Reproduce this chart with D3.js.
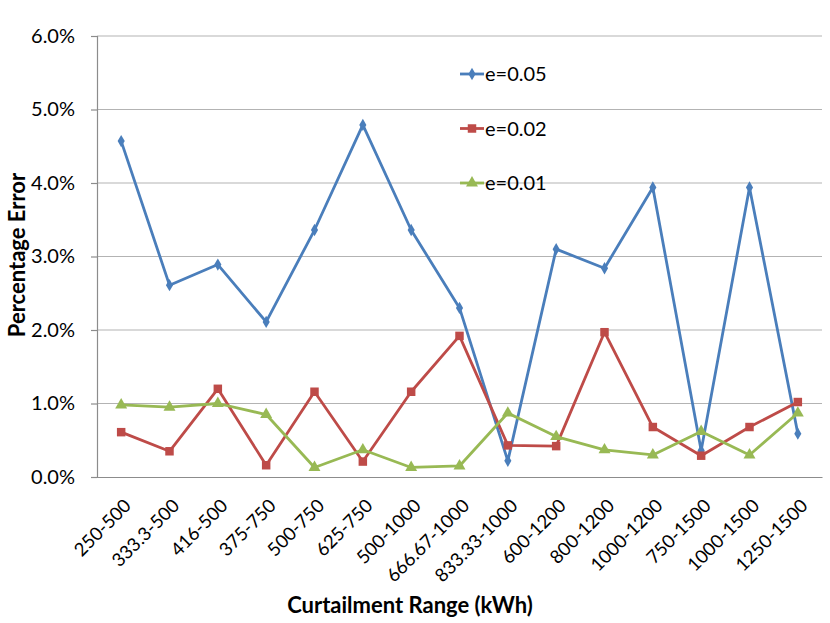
<!DOCTYPE html>
<html>
<head>
<meta charset="utf-8">
<script src="https://cdn.jsdelivr.net/npm/d3@7"></script>
<style>
  body { margin: 0; background: #fff; }
  text { font-family: Lato, "Open Sans", sans-serif; fill: #000; }
  .grid line { stroke: #b3b3b3; stroke-width: 1.2; }
  .line { fill: none; stroke-width: 2.8; stroke-linejoin: round; }
</style>
</head>
<body>
<div id="chart"></div>
<script>
var categories = ["250-500", "333.3-500", "416-500", "375-750", "500-750", "625-750",
  "500-1000", "666.67-1000", "833.33-1000", "600-1200", "800-1200", "1000-1200",
  "750-1500", "1000-1500", "1250-1500"];

var e005 = [4.57, 2.61, 2.89, 2.11, 3.36, 4.79, 3.36, 2.30, 0.22, 3.10, 2.84, 3.94, 0.36, 3.94, 0.59];
var e002 = [0.61, 0.35, 1.20, 0.16, 1.16, 0.21, 1.16, 1.92, 0.43, 0.42, 1.97, 0.68, 0.29, 0.68, 1.02];
var e001 = [0.98, 0.95, 1.00, 0.85, 0.13, 0.37, 0.13, 0.15, 0.87, 0.55, 0.37, 0.30, 0.62, 0.30, 0.87];

var yTicks = [0, 1, 2, 3, 4, 5, 6];

var series = [
  { name: "e=0.05", values: e005, color: "#4a7ebb", shape: d3.symbolDiamond, size: 44 },
  { name: "e=0.02", values: e002, color: "#be4b48", shape: d3.symbolSquare, size: 72 },
  { name: "e=0.01", values: e001, color: "#98b954", shape: d3.symbolTriangle, size: 62 }
];

var width = 830, height = 623;
var margin = { top: 36, right: 8, bottom: 146, left: 97 };

var svg = d3.select("#chart").append("svg")
    .attr("width", width)
    .attr("height", height);

var x = d3.scaleBand()
    .domain(categories)
    .range([margin.left, width - margin.right]);

var y = d3.scaleLinear()
    .domain([0, 6])
    .range([height - margin.bottom, margin.top]);

// gridlines
svg.append("g")
    .attr("class", "grid")
    .selectAll("line")
    .data(yTicks.slice(1))
  .enter().append("line")
    .attr("x1", margin.left)
    .attr("x2", width - margin.right)
    .attr("y1", function(d) { return y(d); })
    .attr("y2", function(d) { return y(d); });

// y axis
var yAxis = svg.append("g")
    .attr("transform", "translate(" + margin.left + ",0)")
    .call(d3.axisLeft(y).tickValues(yTicks).tickSize(6).tickPadding(16)
      .tickFormat(function(d) { return d.toFixed(1) + "%"; }));
yAxis.select(".domain").attr("stroke", "#8c8c8c").attr("stroke-width", 1.2);
yAxis.selectAll(".tick line").attr("stroke", "#8c8c8c").attr("stroke-width", 1.2);
yAxis.selectAll("text").style("font-size", "20px").attr("fill", "#000");

// x axis
var xAxis = svg.append("g")
    .attr("transform", "translate(0," + y(0) + ")")
    .call(d3.axisBottom(x).tickSize(0).tickSizeOuter(0));
xAxis.select(".domain").attr("stroke", "#8c8c8c").attr("stroke-width", 1.2);
xAxis.selectAll("text")
    .style("font-size", "18.5px")
    .style("text-anchor", "end")
    .attr("x", 0)
    .attr("y", 0)
    .attr("dy", 0)
    .attr("transform", "translate(11,30) rotate(-45)");

// lines and markers
var line = d3.line()
    .x(function(d, i) { return x(categories[i]) + x.bandwidth() / 2; })
    .y(function(d) { return y(d); });

series.forEach(function(s) {
  svg.append("path")
      .datum(s.values)
      .attr("class", "line")
      .attr("stroke", s.color)
      .attr("d", line);

  svg.append("g").selectAll("path")
      .data(s.values)
    .enter().append("path")
      .attr("d", d3.symbol().type(s.shape).size(s.size))
      .attr("fill", s.color)
      .attr("transform", function(d, i) {
        return "translate(" + (x(categories[i]) + x.bandwidth() / 2) + "," + y(d) + ")";
      });
});

// legend
var legend = svg.append("g")
    .attr("transform", "translate(460,74)");

var item = legend.selectAll("g")
    .data(series)
  .enter().append("g")
    .attr("transform", function(d, i) { return "translate(0," + i * 54.5 + ")"; });

item.append("line")
    .attr("x1", 0).attr("x2", 24)
    .attr("stroke", function(d) { return d.color; })
    .attr("stroke-width", 2.8);

item.append("path")
    .attr("d", function(d) { return d3.symbol().type(d.shape).size(d.size)(); })
    .attr("fill", function(d) { return d.color; })
    .attr("transform", "translate(12,0)");

item.append("text")
    .attr("x", 25)
    .attr("dy", "0.36em")
    .style("font-size", "20px")
    .text(function(d) { return d.name; });

// axis titles
svg.append("text")
    .attr("x", 410)
    .attr("y", 613)
    .attr("text-anchor", "middle")
    .style("font-size", "22px")
    .style("font-weight", "bold")
    .text("Curtailment Range (kWh)");

svg.append("text")
    .attr("transform", "translate(25,255) rotate(-90)")
    .attr("text-anchor", "middle")
    .style("font-size", "22px")
    .style("font-weight", "bold")
    .text("Percentage Error");
</script>
</body>
</html>
